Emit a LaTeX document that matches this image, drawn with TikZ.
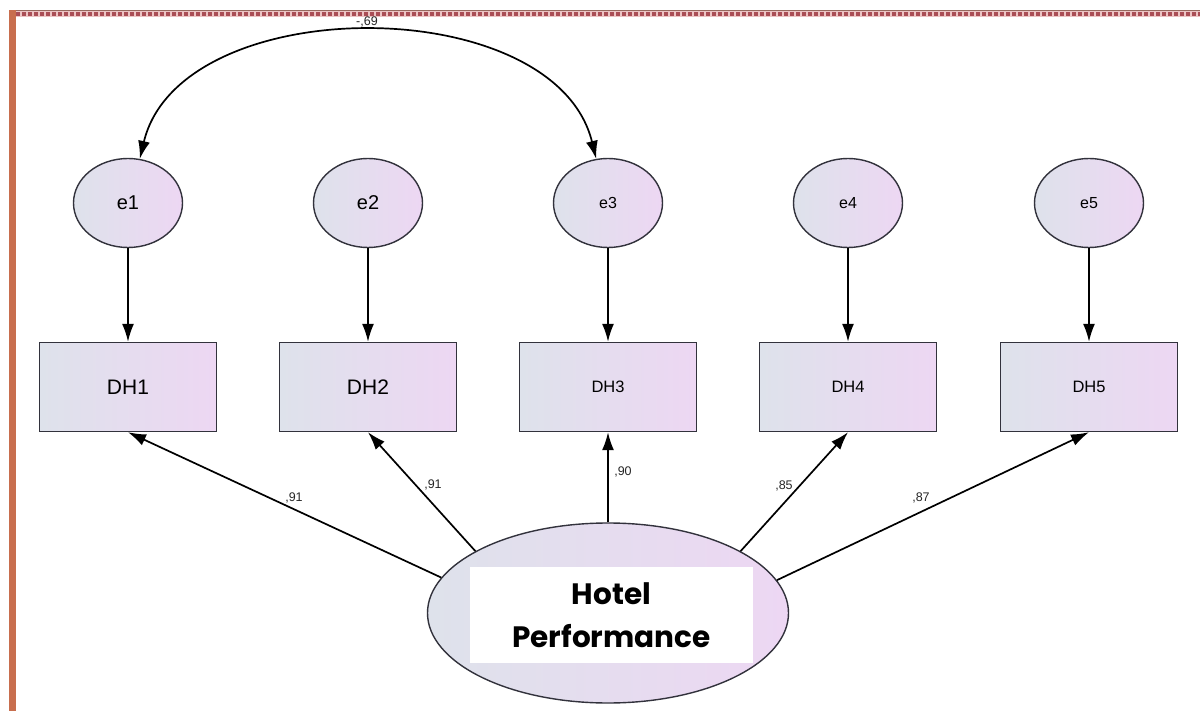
\documentclass[tikz,border=0pt]{standalone}
\usepackage{fontspec}
\setmainfont{Liberation Sans}
\newfontfamily\titlefont{Poppins}
\usetikzlibrary{arrows.meta,shapes.geometric}

\definecolor{gradL}{RGB}{222,226,235}
\definecolor{gradR}{RGB}{237,215,243}
\definecolor{edge}{RGB}{50,50,60}
\definecolor{frameL}{RGB}{200,110,78}
\definecolor{frameT}{RGB}{170,78,86}
\definecolor{frameTl}{RGB}{236,196,196}
\definecolor{frameTd}{RGB}{150,105,95}

\begin{document}
\begin{tikzpicture}[x=1pt,y=-1pt,
  shaded/.style={left color=gradL, right color=gradR},
  errvar/.style={ellipse, shaded, draw=edge, line width=1.4pt, inner sep=0pt,
    minimum width=109pt, minimum height=89pt},
  obs/.style={rectangle, shaded, draw=edge, line width=1.4pt, inner sep=0pt,
    minimum width=177pt, minimum height=89pt},
  bigfont/.style={font=\fontsize{20}{20}\selectfont},
  smallfont/.style={font=\fontsize{16}{16}\selectfont},
  obsbig/.style={font=\fontsize{21}{21}\selectfont},
  obssmall/.style={font=\fontsize{16.5}{16.5}\selectfont},
  link/.style={draw=black, line width=1.7pt, -{Latex[length=18pt,width=12pt]}},
  coef/.style={font=\fontsize{12.5}{12.5}\selectfont, text=black!85, inner sep=1pt}]

\useasboundingbox (0,0) rectangle (1200,711);

% window frame
\fill[white] (0,0) rectangle (1200,711);
\fill[frameTl] (9,10) rectangle (1200,17);
\draw[frameTd, line width=1pt] (9,10.5) -- (1200,10.5);
\draw[frameT, line width=3.5pt, dash pattern=on 4pt off 2pt] (16,13.8) -- (1200,13.8);
\fill[frameL] (9,10) rectangle (16,711);

% error terms
\node[errvar, bigfont]   (e1) at (128,203)  {e1};
\node[errvar, bigfont]   (e2) at (368,203)  {e2};
\node[errvar, smallfont] (e3) at (608,203)  {e3};
\node[errvar, smallfont] (e4) at (848,203)  {e4};
\node[errvar, smallfont] (e5) at (1089,203) {e5};

% observed indicators
\node[obs, obsbig]   (dh1) at (128,387)  {DH1};
\node[obs, obsbig]   (dh2) at (368,387)  {DH2};
\node[obs, obssmall] (dh3) at (608,387)  {DH3};
\node[obs, obssmall] (dh4) at (848,387)  {DH4};
\node[obs, obssmall] (dh5) at (1089,387) {DH5};

% latent construct
\node[ellipse, shaded, draw=edge, line width=1.4pt, inner sep=0pt,
  minimum width=361pt, minimum height=180pt] (hp) at (608,613) {};
\node[fill=white, minimum width=283pt, minimum height=96pt, inner sep=0pt,
  align=center, font=\titlefont\bfseries\fontsize{29.5}{43}\selectfont]
  (hplabel) at (611.5,615) {Hotel\\Performance};

% error to indicator paths
\foreach \i in {1,...,5} {
  \draw[link] (e\i.south) -- (dh\i.north);
}

% loadings
\draw[link] (hp.168.5) -- (dh1.south);
\draw[link] (hp.155) -- (dh2.south);
\draw[link] (hp.90) -- (dh3.south);
\draw[link] (hp.25) -- (dh4.south);
\draw[link] (hp.11.5) -- (dh5.south);

\node[coef] (l1) at (294,498) {,91};
\node[coef] (l2) at (433,485) {,91};
\node[coef] (l3) at (623,472) {,90};
\node[coef] (l4) at (784,486) {,85};
\node[coef] (l5) at (921,498) {,87};

% error covariance
\draw[draw=black, line width=1.7pt, {Latex[length=18pt,width=12pt]}-{Latex[length=18pt,width=12pt]}]
  (e1.75) .. controls (180,-10) and (555,-10) .. (e3.105);
\node[coef] (cov) at (367,22) {-,69};

\end{tikzpicture}
\end{document}
